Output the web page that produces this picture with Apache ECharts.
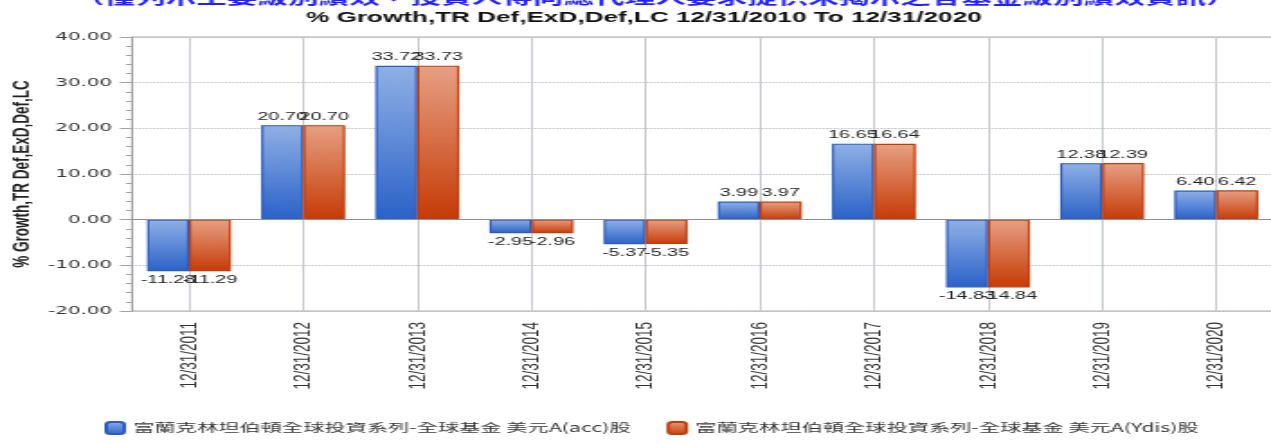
<!DOCTYPE html>
<html>
<head>
<meta charset="utf-8">
<script src="https://cdn.jsdelivr.net/npm/echarts@6/dist/echarts.min.js"></script>
<style>
  html, body { margin: 0; padding: 0; background: #fff; overflow: hidden; }
  /* the reference is a horizontally stretched chart, so draw narrow and stretch */
  #chart { width: 706px; height: 443px; transform: scaleX(1.8003); transform-origin: 0 0; }
</style>
</head>
<body>
<div id="chart"></div>
<script>
const categories = ['12/31/2011', '12/31/2012', '12/31/2013', '12/31/2014', '12/31/2015',
  '12/31/2016', '12/31/2017', '12/31/2018', '12/31/2019', '12/31/2020'];
const accValues = [-11.28, 20.70, 33.72, -2.95, -5.37, 3.99, 16.65, -14.83, 12.38, 6.40];
const ydisValues = [-11.29, 20.70, 33.73, -2.96, -5.35, 3.97, 16.64, -14.84, 12.39, 6.42];
const seriesNames = ['富蘭克林坦伯頓全球投資系列-全球基金 美元A(acc)股', '富蘭克林坦伯頓全球投資系列-全球基金 美元A(Ydis)股'];
const yMin = -20, yMax = 40, yStep = 10;
const noteText = '（僅列示主要級別績效，投資人得向總代理人要求提供未揭示之各基金級別績效資訊）';
const titleText = '% Growth,TR Def,ExD,Def,LC 12/31/2010 To 12/31/2020';
const yName = '% Growth,TR Def,ExD,Def,LC';

const grad = (top, bottom) => new echarts.graphic.LinearGradient(0, 0, 0, 1, [
  { offset: 0, color: top }, { offset: 1, color: bottom }]);

const chart = echarts.init(document.getElementById('chart'), null, { renderer: 'canvas' });

const barData = (vals) => vals.map((v) => ({
  value: v,
  label: { position: v < 0 ? 'bottom' : 'top' },
}));

const labelStyle = {
  show: true, distance: 3, color: '#222', fontSize: 11,
  fontFamily: 'Liberation Sans, Arial, sans-serif',
  formatter: (p) => p.value.toFixed(2),
};

chart.setOption({
  animation: false,
  backgroundColor: '#fff',
  title: [
    { text: noteText, left: 36, top: -16,
      textStyle: { color: '#1f1fff', fontSize: 17, fontWeight: 'bold', fontFamily: 'Noto Sans CJK TC, sans-serif' } },
    { text: titleText, left: 165, top: 5,
      textStyle: { color: '#111', fontSize: 14.5, fontWeight: 'bold', fontFamily: 'Liberation Sans, Arial, sans-serif' } },
  ],
  legend: {
    left: 58, top: 421, padding: 0, itemWidth: 10, itemHeight: 12, itemGap: 20,
    textStyle: { color: '#333', fontSize: 11.8, fontFamily: 'Noto Sans CJK TC, sans-serif' },
    data: seriesNames,
  },
  grid: { left: 73.3, top: 37, width: 634, height: 274, outerBoundsMode: 'none',
    show: true, borderColor: '#a8acb4', borderWidth: 1 },
  xAxis: {
    type: 'category', data: categories,
    axisLine: { lineStyle: { color: '#a0a4ac' } },
    axisTick: { alignWithLabel: true, length: 7, lineStyle: { color: '#a0a4ac' } },
    splitLine: { show: true, alignWithLabel: true, lineStyle: { color: '#c4c8d0', type: 'solid' } },
    axisLabel: { rotate: 90, margin: 11, color: '#333', fontSize: 13.5, fontFamily: 'Liberation Sans, Arial, sans-serif' },
  },
  yAxis: {
    type: 'value', min: yMin, max: yMax, interval: yStep,
    name: yName, nameLocation: 'middle', nameGap: 54, nameMoveOverlap: false,
    nameTextStyle: { color: '#222', fontSize: 13.5, fontWeight: 'bold', fontFamily: 'Liberation Sans, Arial, sans-serif' },
    axisLine: { show: true, lineStyle: { color: '#a0a4ac' } },
    axisTick: { show: true, length: 6.7, lineStyle: { color: '#a0a4ac' } },
    minorTick: { show: true, splitNumber: 5, length: 3.3, lineStyle: { color: '#a0a4ac' } },
    splitLine: { lineStyle: { color: '#b4b4b4', type: 'dotted' } },
    axisLabel: { margin: 11, color: '#333', fontSize: 11, fontFamily: 'DejaVu Sans, Verdana, sans-serif',
      formatter: (v) => v.toFixed(2) },
  },
  series: [
    {
      name: seriesNames[0], type: 'bar', barWidth: 23.3, barGap: '0%',
      data: barData(accValues),
      itemStyle: { color: grad('#90b0e5', '#2a62c8'), borderColor: '#2a5cc2', borderWidth: 1.2 },
      label: labelStyle,
      markLine: {
        silent: true, symbol: 'none', label: { show: false },
        lineStyle: { color: '#8c9099', type: 'solid', width: 1 },
        data: [{ yAxis: 0 }],
      },
    },
    {
      name: seriesNames[1], type: 'bar', barWidth: 23.3,
      data: barData(ydisValues),
      itemStyle: { color: grad('#e6a084', '#c63a06'), borderColor: '#c43c0a', borderWidth: 1.2 },
      label: labelStyle,
    },
  ],
});
</script>
</body>
</html>
